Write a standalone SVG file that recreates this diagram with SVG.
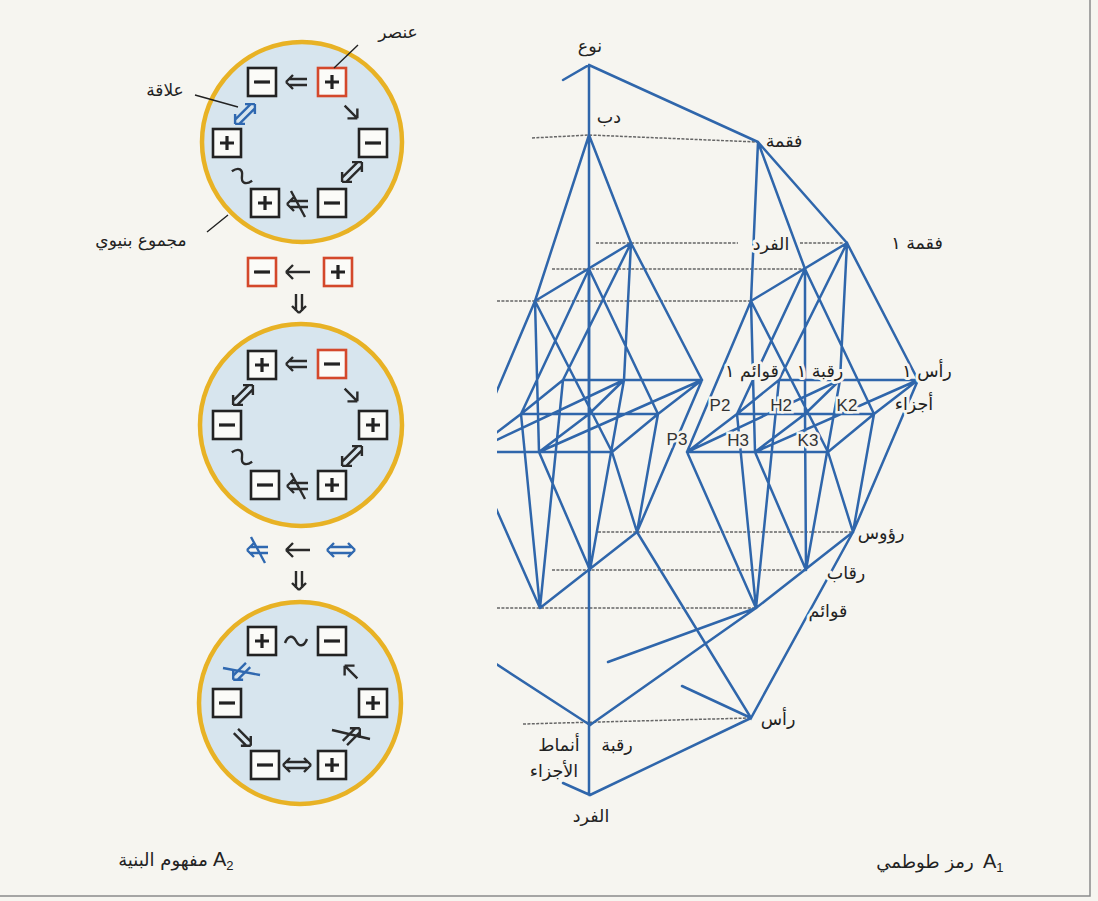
<svg xmlns="http://www.w3.org/2000/svg" xmlns:xlink="http://www.w3.org/1999/xlink" width="1098" height="901" viewBox="0 0 1098 901">
<style>
.bg{fill:#f6f5f0}
.edge{fill:none;stroke:#2f66ab;stroke-width:2.5;stroke-linecap:round}
.dot{fill:none;stroke:#666;stroke-width:1.5;stroke-dasharray:3 1.4}
.lbl{font-family:"DejaVu Sans",sans-serif;font-size:17.5px;fill:#222;text-anchor:middle;stroke:#f6f5f0;stroke-width:6;paint-order:stroke;stroke-linejoin:round}
.lat{font-family:"Liberation Sans",sans-serif;font-size:17px;fill:#333;text-anchor:middle;stroke:#f6f5f0;stroke-width:5;paint-order:stroke}
.cap{font-family:"DejaVu Sans",sans-serif;font-size:18px;fill:#222}
.ring{fill:#d7e5ee;stroke:#e8b225;stroke-width:4.5}
.box{fill:#fbfbf8;stroke:#222;stroke-width:2.6}
.rbox{fill:#fbfbf8;stroke:#d4482b;stroke-width:2.6}
.sgn{fill:none;stroke:#222;stroke-width:3.2}
.ar{fill:none;stroke:#2a2a2a;stroke-width:2.4}
.ab{fill:none;stroke:#2f68b0;stroke-width:2.4}
.ptr{fill:none;stroke:#222;stroke-width:1.4}
.lt{font-family:"DejaVu Sans",sans-serif;font-size:17px;fill:#222;text-anchor:middle}
</style>
<defs>
<clipPath id="clipL"><rect x="497" y="0" width="601" height="901"/></clipPath>
<path id="dl" d="M-11,0 L-4,-7 M-11,0 L-4,7 M-8,-3 H10 M-8,3 H10"/>
<path id="dlx" d="M-11,0 L-4,-7 M-11,0 L-4,7 M-8,-3 H10 M-8,3 H10 M-7,-13 L7,13"/>
<path id="db" d="M-14,0 L-7,-7 M-14,0 L-7,7 M14,0 L7,-7 M14,0 L7,7 M-11,-3 H11 M-11,3 H11"/>
<path id="dd" d="M0,10 L-7,3 M0,10 L7,3 M-3,-9 V8 M3,-9 V8"/>
<path id="sl" d="M-12,0 H12 M-12,0 L-5,-7 M-12,0 L-5,7"/>
<path id="sa" d="M-9,0 H9 M9,0 L2,-7 M9,0 L2,7"/>
<path id="tl" d="M-11,2 C-8,-6 -3,-6 0,0 S8,6 11,-2"/>
<g id="plus"><rect class="box" x="-14" y="-14" width="28" height="28"/><path class="sgn" d="M-7,0 H7 M0,-7 V7"/></g>
<g id="minus"><rect class="box" x="-14" y="-14" width="28" height="28"/><path class="sgn" d="M-8,0 H8"/></g>
<g id="rplus"><rect class="rbox" x="-14" y="-14" width="28" height="28"/><path class="sgn" d="M-7,0 H7 M0,-7 V7"/></g>
<g id="rminus"><rect class="rbox" x="-14" y="-14" width="28" height="28"/><path class="sgn" d="M-8,0 H8"/></g>
<path id="lat" d="M631,243 L535,301
M631,243 L563,380 M631,243 L624,380 M631,243 L702,380
M589,269 L521,414 M589,269 L589,414 M589,269 L658,414
M535,301 L471,452 M535,301 L539,452 M535,301 L612,452
M563,380 H702 M521,414 H658 M471,452 H612
M563,380 L521,414 L471,452 M624,380 L589,414 L539,452 M702,380 L658,414 L612,452
M702,380 L637,532 M658,414 L637,532 M612,452 L637,532
M624,380 L590,570 M589,414 L590,570 M539,452 L590,570
M563,380 L540,608 M521,414 L540,608 M471,452 L540,608
M540,608 L637,532
M471,452 L624,380 M539,452 L702,380"/>
</defs>
<rect class="bg" x="0" y="0" width="1098" height="901"/>
<path d="M1090,0 V896 H0" fill="none" stroke="#8a8a8a" stroke-width="1.5"/>

<g id="levels">
<path class="dot" d="M532,138 L589,135 L757,142"/>
<path class="dot" d="M596,243 H738 M800,243 H843"/>
<path class="dot" d="M552,269 H805"/>
<path class="dot" d="M497,301 H751"/>
<path class="dot" d="M598,532 H853"/>
<path class="dot" d="M552,570 H806"/>
<path class="dot" d="M497,608 H756"/>
<path class="dot" d="M523,724 L750,718"/>
</g>

<g id="connectors">
<g id="lattice-bear" clip-path="url(#clipL)">
<use xlink:href="#lat" class="edge"/>
<path class="edge" d="M470,647 L590,725"/>
</g>
<g id="lattice-seal" transform="translate(216,0)">
<use xlink:href="#lat" class="edge"/>
</g>
<path class="edge" d="M589,65 V795 M563,80 L589,65 L758,142
M589,135 L631,243 M589,135 L535,301
M758,142 L847,243 M758,142 L805,269 M758,142 L751,301
M637,532 L751,718 L853,532 M682,686 L751,718
M590,725 L756,608 M608,662 L756,608
M563,783 L590,795 L751,718"/>
</g>

<g id="graph-labels">
<g id="n-species"><text class="lbl" x="590" y="52">نوع</text></g>
<g id="n-bear"><text class="lbl" x="609" y="123">دب</text></g>
<g id="n-seal"><text class="lbl" x="784" y="147">فقمة</text></g>
<g id="n-individual"><text class="lbl" x="771" y="250">الفرد</text></g>
<g id="n-seal1"><text class="lbl" x="917" y="249">فقمة ١</text></g>
<g id="n-legs1"><text class="lbl" x="752" y="377">قوائم ١</text></g>
<g id="n-neck1"><text class="lbl" x="820" y="377">رقبة ١</text></g>
<g id="n-head1"><text class="lbl" x="927" y="377">رأس ١</text></g>
<g id="n-parts"><text class="lbl" x="914" y="410">أجزاء</text></g>
<g id="n-P2"><text class="lat" x="720" y="411">P2</text></g>
<g id="n-H2"><text class="lat" x="781" y="411">H2</text></g>
<g id="n-K2"><text class="lat" x="847" y="411">K2</text></g>
<g id="n-P3"><text class="lat" x="677" y="445">P3</text></g>
<g id="n-H3"><text class="lat" x="738" y="446">H3</text></g>
<g id="n-K3"><text class="lat" x="808" y="446">K3</text></g>
<g id="n-heads"><text class="lbl" x="881" y="539">رؤوس</text></g>
<g id="n-necks"><text class="lbl" x="846" y="579">رقاب</text></g>
<g id="n-legs"><text class="lbl" x="828" y="617">قوائم</text></g>
<g id="n-head"><text class="lbl" x="778" y="725">رأس</text></g>
<g id="n-neck"><text class="lbl" x="617" y="751">رقبة</text></g>
<g id="n-patterns"><text class="lbl" x="559" y="751">أنماط</text><text class="lbl" x="554" y="777">الأجزاء</text></g>
<g id="n-indiv"><text class="lbl" x="591" y="822">الفرد</text></g>
</g>

<g id="structure-1">
<circle class="ring" cx="302" cy="142" r="100"/>
<use xlink:href="#minus" x="262" y="82"/>
<use xlink:href="#rplus" x="332" y="82"/>
<use xlink:href="#minus" x="373" y="143"/>
<use xlink:href="#plus" x="227" y="143"/>
<use xlink:href="#plus" x="265" y="203"/>
<use xlink:href="#minus" x="332" y="203"/>
<use xlink:href="#dl" class="ar" transform="translate(297,82)"/>
<use xlink:href="#sa" class="ar" transform="translate(351,112) rotate(45)"/>
<use xlink:href="#db" class="ar" transform="translate(352,172) rotate(-45)"/>
<use xlink:href="#dlx" class="ar" transform="translate(298,204)"/>
<use xlink:href="#tl" class="ar" transform="translate(242,176) rotate(35)"/>
<use xlink:href="#db" class="ab" transform="translate(245,114) rotate(-45)"/>
<path class="ptr" d="M358,45 L334,68 M195,95 L238,107 M207,232 L228,215"/>
<text class="lt" x="398" y="38">عنصر</text>
<text class="lt" x="165" y="96">علاقة</text>
<text class="lt" x="141" y="246">مجموع بنيوي</text>
</g>

<g id="transform-1">
<use xlink:href="#rminus" x="262" y="272"/>
<use xlink:href="#sl" class="ar" transform="translate(298,272)"/>
<use xlink:href="#rplus" x="338" y="272"/>
<use xlink:href="#dd" class="ar" transform="translate(299,303)"/>
</g>

<g id="structure-2">
<circle class="ring" cx="301" cy="425" r="101"/>
<use xlink:href="#plus" x="262" y="365"/>
<use xlink:href="#rminus" x="332" y="364"/>
<use xlink:href="#minus" x="227" y="425"/>
<use xlink:href="#plus" x="373" y="425"/>
<use xlink:href="#minus" x="265" y="485"/>
<use xlink:href="#plus" x="332" y="485"/>
<use xlink:href="#dl" class="ar" transform="translate(297,364)"/>
<use xlink:href="#sa" class="ar" transform="translate(351,395) rotate(45)"/>
<use xlink:href="#db" class="ar" transform="translate(352,456) rotate(-45)"/>
<use xlink:href="#dlx" class="ar" transform="translate(298,486)"/>
<use xlink:href="#tl" class="ar" transform="translate(242,457) rotate(35)"/>
<use xlink:href="#db" class="ar" transform="translate(243,395) rotate(-45)"/>
</g>

<g id="transform-2">
<use xlink:href="#dlx" class="ab" transform="translate(258,550)"/>
<use xlink:href="#sl" class="ar" transform="translate(298,550)"/>
<use xlink:href="#db" class="ab" transform="translate(341,550)"/>
<use xlink:href="#dd" class="ar" transform="translate(299,580)"/>
</g>

<g id="structure-3">
<circle class="ring" cx="300" cy="703" r="101"/>
<use xlink:href="#plus" x="262" y="641"/>
<use xlink:href="#minus" x="332" y="641"/>
<use xlink:href="#minus" x="227" y="703"/>
<use xlink:href="#plus" x="373" y="703"/>
<use xlink:href="#minus" x="265" y="765"/>
<use xlink:href="#plus" x="332" y="765"/>
<use xlink:href="#tl" class="ar" transform="translate(296,641)"/>
<use xlink:href="#sa" class="ar" transform="translate(351,672) rotate(-135)"/>
<use xlink:href="#dl" class="ar" transform="translate(352,736) rotate(135)"/>
<path class="ar" d="M332,730 L370,739"/>
<use xlink:href="#dl" class="ab" transform="translate(241,672) rotate(-45)"/>
<path class="ab" d="M223,668 L260,675"/>
<use xlink:href="#dl" class="ar" transform="translate(243,738) rotate(-135)"/>
<use xlink:href="#db" class="ar" transform="translate(297,765)"/>
</g>

<g id="captions">
<text class="cap" x="163" y="866" text-anchor="middle">مفهوم البنية</text>
<text x="213" y="866" font-family="Liberation Sans, sans-serif" font-size="20" fill="#222">A<tspan font-size="13" dy="4">2</tspan></text>
<text class="cap" x="925" y="868" text-anchor="middle">رمز طوطمي</text>
<text x="983" y="868" font-family="Liberation Sans, sans-serif" font-size="20" fill="#222">A<tspan font-size="13" dy="4">1</tspan></text>
</g>
</svg>
